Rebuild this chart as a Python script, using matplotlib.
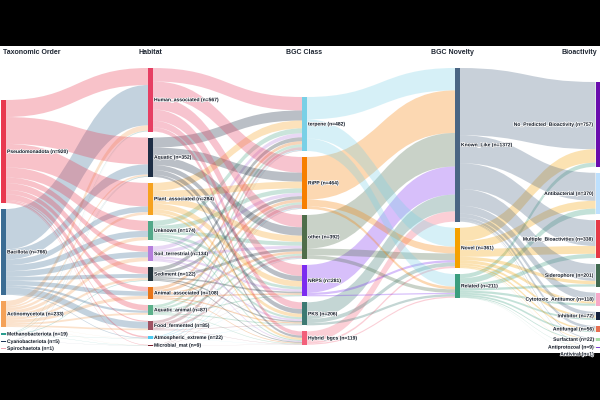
import numpy as np
import matplotlib.pyplot as plt
from matplotlib.path import Path
from matplotlib.patches import PathPatch, Rectangle
import matplotlib.patheffects as pe

plt.rcParams['font.family'] = ['Liberation Sans', 'DejaVu Sans']

# node names per column
taxa = ["Pseudomonadota", "Bacillota", "Actinomycetota", "Methanobacteriota",
        "Cyanobacteriota", "Spirochaetota"]
habitats = ["Human_associated", "Aquatic", "Plant_associated", "Unknown", "Soil_terrestrial",
            "Sediment", "Animal_associated", "Aquatic_animal", "Food_fermented",
            "Atmospheric_extreme", "Microbial_mat"]
bgc_classes = ["terpene", "RiPP", "other", "NRPS", "PKS", "Hybrid_bgcs"]
novelty = ["Known_Like", "Novel", "Related"]
bioactivity = ["No_Predicted_Bioactivity", "Antibacterial", "Multiple_Bioactivities",
               "Siderophore", "Cytotoxic_Antitumor", "Inhibitor", "Antifungal",
               "Surfactant", "Antiprotozoal", "Antiviral"]

# flow counts, rows = source node, cols = target node
taxa_to_habitat = [
    [152, 240, 210, 90, 50, 60, 40, 50, 10, 13, 5],
    [360, 90, 50, 55, 50, 35, 40, 20, 60, 6, 0],
    [48, 15, 24, 29, 34, 21, 28, 17, 15, 1, 1],
    [5, 4, 0, 0, 0, 6, 0, 0, 0, 2, 2],
    [1, 3, 0, 0, 0, 0, 0, 0, 0, 0, 1],
    [1, 0, 0, 0, 0, 0, 0, 0, 0, 0, 0],
]
habitat_to_bgc = [
    [120, 140, 110, 100, 60, 37],
    [90, 80, 75, 45, 42, 20],
    [70, 60, 55, 50, 30, 19],
    [45, 40, 35, 25, 19, 10],
    [35, 30, 25, 20, 16, 8],
    [35, 28, 25, 14, 12, 8],
    [28, 27, 22, 13, 11, 7],
    [25, 20, 18, 10, 9, 5],
    [25, 30, 20, 2, 5, 3],
    [6, 6, 5, 2, 2, 1],
    [3, 3, 2, 0, 0, 1],
]
bgc_to_novelty = [
    [200, 170, 112],
    [380, 60, 24],
    [300, 60, 32],
    [250, 20, 11],
    [150, 35, 21],
    [92, 16, 11],
]
novelty_to_bio = [
    [600, 250, 230, 150, 70, 35, 25, 8, 4, 0],
    [120, 70, 70, 30, 28, 20, 15, 6, 2, 0],
    [37, 50, 38, 21, 20, 17, 16, 8, 3, 1],
]

col_titles = ["Taxonomic Order", "Habitat", "BGC Class", "BGC Novelty", "Bioactivity"]

taxa_colors = ["#e8384f", "#3b6c93", "#f4a259", "#2a9d8f", "#1d3557", "#f1a7b5"]
habitat_colors = ["#e63e62", "#1d2d44", "#f6a21e", "#52a889", "#b57edc", "#22333b",
                  "#e8751a", "#5cb08a", "#a05263", "#4cc9f0", "#7b1e2c"]
bgc_colors = ["#79d0e6", "#f77f00", "#4f6d4a", "#7b2cf0", "#3d7a73", "#f2607a"]
novelty_colors = ["#4a6583", "#f5a100", "#3a9e7e"]
bio_colors = ["#6a0dad", "#bde0fe", "#e63946", "#40694f", "#f7a8c8", "#14213d",
              "#e76f51", "#a7dca5", "#7b3fd6", "#c0392b"]

names = [taxa, habitats, bgc_classes, novelty, bioactivity]
colors = [taxa_colors, habitat_colors, bgc_colors, novelty_colors, bio_colors]
flows = [np.array(m, dtype=float) for m in
         [taxa_to_habitat, habitat_to_bgc, bgc_to_novelty, novelty_to_bio]]

# layout (pixels)
col_x = [1, 148, 302, 455, 595.5]
col_top = [100, 68, 97, 68, 82]
bar_w = 4.5
scale = 0.112
gap = 6

totals = [flows[0].sum(axis=1)] + [f.sum(axis=0) for f in flows]

# node positions
node_y = []
for c in range(5):
    y = col_top[c]
    ys = []
    for v in totals[c]:
        h = max(v * scale, 0.9)
        ys.append((y, y + h))
        y += h + gap
    node_y.append(ys)

fig = plt.figure(figsize=(6, 4), dpi=100, facecolor="black")
ax = fig.add_axes([0, 47 / 400, 1, 307 / 400])
ax.set_facecolor("white")
ax.set_xlim(0, 600)
ax.set_ylim(353, 46)
ax.axis("off")
ax.add_patch(Rectangle((0, 46), 600, 307, facecolor="white", edgecolor="none", zorder=0))


def band(x0, a0, b0, x1, a1, b1, color):
    xm = (x0 + x1) / 2
    verts = [(x0, a0), (xm, a0), (xm, a1), (x1, a1),
             (x1, b1), (xm, b1), (xm, b0), (x0, b0), (x0, a0)]
    codes = [Path.MOVETO, Path.CURVE4, Path.CURVE4, Path.CURVE4,
             Path.LINETO, Path.CURVE4, Path.CURVE4, Path.CURVE4, Path.CLOSEPOLY]
    ax.add_patch(PathPatch(Path(verts, codes), facecolor=color, edgecolor="none",
                           alpha=0.3, zorder=1))


for c, f in enumerate(flows):
    ns, nt = f.shape
    # offsets where each link leaves / enters
    out_off = [node_y[c][i][0] for i in range(ns)]
    in_off = [node_y[c + 1][j][0] for j in range(nt)]
    src_pos = {}
    for i in range(ns):
        for j in range(nt):
            if f[i, j] > 0:
                h = f[i, j] * scale
                src_pos[(i, j)] = (out_off[i], out_off[i] + h)
                out_off[i] += h
    for j in range(nt):
        for i in range(ns):
            if f[i, j] > 0:
                h = f[i, j] * scale
                a0, b0 = src_pos[(i, j)]
                band(col_x[c] + bar_w, a0, b0, col_x[c + 1], in_off[j], in_off[j] + h,
                     colors[c][i])
                in_off[j] += h

halo = [pe.withStroke(linewidth=1.0, foreground="white")]
for c in range(5):
    for k, (y0, y1) in enumerate(node_y[c]):
        ax.add_patch(Rectangle((col_x[c], y0), bar_w, y1 - y0, facecolor=colors[c][k],
                               edgecolor="none", zorder=3))
        label = "%s (n=%d)" % (names[c][k], totals[c][k])
        if c < 4:
            tx, ha = col_x[c] + bar_w + 1.5, "left"
        else:
            tx, ha = col_x[c] - 1.5, "right"
        ax.text(tx, (y0 + y1) / 2, label, ha=ha, va="center", fontsize=3.6,
                fontweight="bold", color="#0d1522", zorder=4, path_effects=halo)

title_x = [3, 150, 304, 452, 597]
title_ha = ["left", "center", "center", "center", "right"]
for c in range(5):
    ax.text(title_x[c], 52, col_titles[c], ha=title_ha[c], va="center", fontsize=5,
            fontweight="bold", color="#1f2733", zorder=4)

fig.savefig("out.png", dpi=100, facecolor="black")
